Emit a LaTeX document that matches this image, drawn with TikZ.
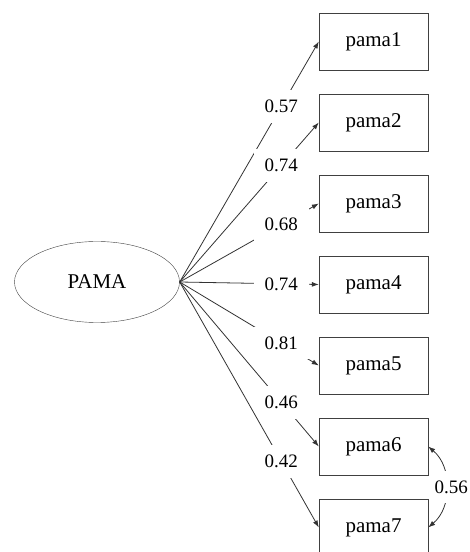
\documentclass[tikz,border=0pt]{standalone}
\usepackage{fontspec}
\setmainfont{Liberation Serif}
\usetikzlibrary{shapes, arrows.meta}

\begin{document}
\begin{tikzpicture}[x=1pt, y=1pt, >={Latex[length=7pt, width=5pt]},
        latent/.style = {draw=black!75, ellipse, minimum width=165pt, minimum height=81pt, font=\fontsize{21}{25}\selectfont},
        item/.style = {draw=black!75, rectangle, minimum width=109pt, minimum height=57pt, font=\fontsize{21}{25}\selectfont},
        lbl/.style = {fill=white, inner xsep=11pt, inner ysep=10pt, font=\fontsize{19}{23}\selectfont},
        path/.style = {draw=black!80, line width=0.8pt}]
                \useasboundingbox (0, 0) rectangle (470, 552);
                \node[latent] at (97, 270) (PAMA) {PAMA};
                \foreach \i in {1,...,7} {
                        \node[item] at (373.5, 591.5 - 81*\i) (p\i) {pama\i};
                }

                \draw [path, ->] (PAMA.east) -- node[lbl, pos=0.73] {0.57} (p1.west);
                \draw [path, ->] (PAMA.east) -- node[lbl, pos=0.73] {0.74} (p2.west);
                \draw [path, ->] (PAMA.east) -- node[lbl, pos=0.73] {0.68} (p3.west);
                \draw [path, ->] (PAMA.east) -- node[lbl, pos=0.73] {0.74} (p4.west);
                \draw [path, ->] (PAMA.east) -- node[lbl, pos=0.73] {0.81} (p5.west);
                \draw [path, ->] (PAMA.east) -- node[lbl, pos=0.73] {0.46} (p6.west);
                \draw [path, ->] (PAMA.east) -- node[lbl, pos=0.73] {0.42} (p7.west);

                \draw [path, <->] (p6.east) to[bend left=50] node[lbl, xshift=5pt, inner xsep=4pt] {0.56} (p7.east);
                \end{tikzpicture}
\end{document}
